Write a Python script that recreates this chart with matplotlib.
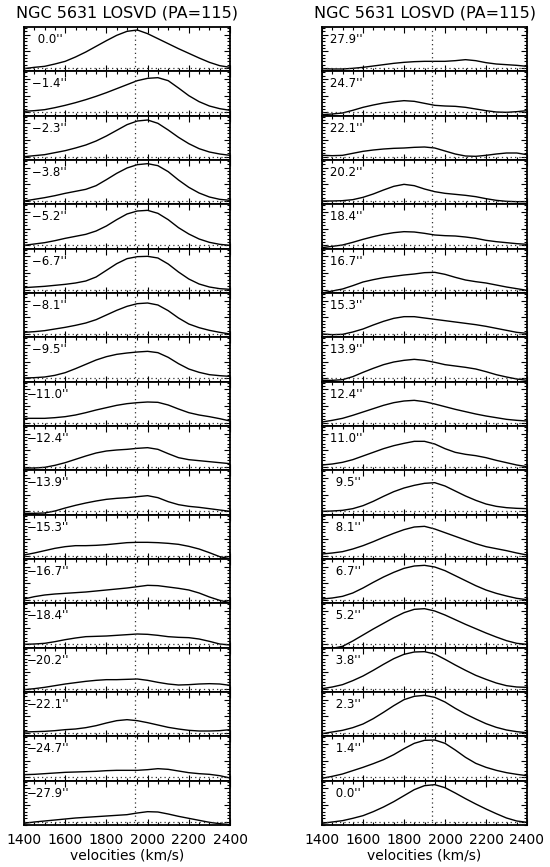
import numpy as np
import matplotlib.pyplot as plt
from matplotlib.ticker import MultipleLocator

# velocity grid (km/s) and systemic velocity
vel = np.arange(1400, 2401, 50)
v_sys = 1937

# radii (arcsec) for each panel, top to bottom
left_radii = [0.0, -1.4, -2.3, -3.8, -5.2, -6.7, -8.1, -9.5, -11.0,
              -12.4, -13.9, -15.3, -16.7, -18.4, -20.2, -22.1, -24.7, -27.9]
right_radii = [27.9, 24.7, 22.1, 20.2, 18.4, 16.7, 15.3, 13.9, 12.4,
               11.0, 9.5, 8.1, 6.7, 5.2, 3.8, 2.3, 1.4, 0.0]

# LOSVD profiles (arbitrary units), one row per panel
left_losvd = [
    [-2, 2, 5, 12, 20, 33, 48, 65, 82, 98, 110, 114, 103, 88, 73, 58, 44, 30, 17, 7, 2],
    [3, 5, 8, 14, 21, 29, 38, 48, 59, 71, 83, 95, 102, 104, 95, 73, 50, 32, 19, 11, 6],
    [0, 3, 6, 12, 18, 26, 35, 47, 62, 79, 96, 107, 110, 100, 80, 58, 39, 24, 14, 8, 4],
    [0, 5, 10, 16, 23, 29, 35, 46, 64, 83, 99, 109, 112, 106, 88, 63, 41, 24, 12, 5, 2],
    [0, 4, 8, 14, 21, 27, 33, 43, 58, 77, 94, 103, 105, 96, 77, 53, 34, 19, 9, 3, 0],
    [6, 8, 10, 13, 16, 20, 26, 38, 58, 78, 93, 99, 100, 95, 77, 53, 32, 17, 8, 3, 1],
    [5, 7, 10, 15, 20, 26, 33, 43, 57, 71, 83, 91, 93, 87, 70, 48, 30, 19, 11, 5, 0],
    [1, 2, 4, 9, 17, 29, 42, 55, 65, 72, 76, 79, 81, 77, 63, 44, 28, 18, 11, 8, 6],
    [13, 13, 13, 15, 18, 23, 30, 38, 45, 52, 57, 60, 62, 61, 53, 41, 30, 23, 18, 12, 5],
    [-3, -3, -1, 5, 13, 23, 33, 42, 48, 51, 53, 56, 58, 53, 40, 28, 22, 19, 16, 13, 10],
    [-6, -6, -5, 1, 10, 18, 25, 31, 36, 39, 41, 44, 47, 41, 29, 20, 15, 12, 8, 4, 0],
    [2, 8, 15, 22, 27, 30, 30, 31, 33, 36, 39, 40, 40, 39, 37, 34, 28, 20, 9, -3, -9],
    [3, 10, 15, 18, 20, 22, 24, 27, 30, 33, 36, 40, 44, 43, 39, 35, 30, 21, 9, -1, -8],
    [0, 1, 3, 8, 14, 19, 23, 24, 25, 27, 29, 31, 30, 27, 23, 21, 20, 16, 9, 1, -2],
    [-3, 0, 4, 9, 14, 18, 22, 25, 27, 27, 28, 29, 25, 19, 14, 11, 12, 14, 15, 14, 10],
    [3, 4, 5, 7, 10, 12, 16, 22, 30, 37, 40, 37, 31, 24, 17, 12, 8, 6, 6, 7, 10],
    [8, 9, 11, 13, 15, 16, 17, 18, 20, 21, 21, 21, 23, 26, 24, 19, 14, 11, 9, 5, -2],
    [-5, -1, 2, 5, 8, 11, 13, 15, 17, 19, 21, 26, 30, 29, 23, 16, 10, 4, -2, -6, -9],
]
right_losvd = [
    [-2, -3, -3, -1, 2, 6, 10, 14, 17, 19, 20, 20, 20, 22, 25, 22, 16, 12, 10, 8, 5],
    [-7, -5, -2, 6, 15, 22, 28, 32, 35, 33, 27, 21, 19, 18, 15, 10, 5, 1, 0, 2, 5],
    [4, 3, 4, 10, 16, 20, 23, 25, 26, 28, 29, 26, 17, 8, 2, 1, 4, 8, 11, 11, 6],
    [0, 0, 1, 4, 11, 21, 33, 44, 50, 46, 36, 28, 23, 20, 17, 13, 7, 2, -1, -2, -2],
    [-7, -3, 1, 9, 18, 26, 33, 38, 41, 40, 36, 31, 29, 28, 25, 21, 15, 11, 8, 5, 3],
    [-10, -4, 2, 12, 23, 30, 36, 40, 44, 47, 51, 52, 46, 37, 29, 24, 20, 14, 8, 3, -2],
    [0, -2, -1, 6, 15, 27, 38, 47, 52, 52, 48, 44, 40, 36, 32, 28, 23, 17, 11, 5, 2],
    [-6, -6, -4, 5, 18, 30, 41, 49, 54, 57, 54, 48, 41, 37, 33, 28, 20, 11, 4, -2, -6],
    [2, 7, 13, 22, 32, 42, 52, 60, 65, 67, 63, 56, 48, 40, 33, 26, 20, 15, 10, 7, 5],
    [6, 9, 14, 22, 33, 44, 55, 64, 71, 77, 77, 69, 55, 44, 38, 34, 28, 20, 13, 6, 1],
    [0, 1, 3, 8, 17, 30, 45, 59, 70, 78, 84, 86, 76, 61, 46, 33, 22, 15, 11, 9, 8],
    [5, 8, 12, 20, 30, 42, 55, 67, 78, 86, 88, 80, 69, 58, 47, 36, 27, 21, 15, 8, 2],
    [3, 6, 11, 21, 36, 53, 69, 83, 95, 102, 104, 99, 88, 73, 58, 43, 30, 20, 12, 5, 1],
    [-14, -12, -6, 10, 28, 46, 63, 80, 95, 105, 107, 100, 88, 74, 60, 47, 34, 22, 11, 3, 0],
    [0, 5, 12, 24, 38, 55, 73, 90, 103, 110, 111, 104, 88, 71, 55, 40, 28, 17, 9, 5, 4],
    [-2, 3, 8, 16, 27, 43, 62, 82, 100, 110, 113, 107, 93, 74, 57, 42, 28, 17, 9, 4, 1],
    [-3, 3, 10, 20, 30, 41, 53, 68, 86, 102, 111, 112, 102, 82, 60, 42, 30, 21, 14, 9, 5],
    [-5, -1, 3, 10, 18, 30, 44, 60, 78, 96, 108, 111, 102, 86, 69, 53, 38, 24, 11, 2, -2],
]

title = 'NGC 5631 LOSVD (PA=115)'

W, H = 550, 867
fig = plt.figure(figsize=(W / 100, H / 100), dpi=100)

top_px, bot_px = 27, 825
n = len(left_radii)
ph = (bot_px - top_px) / n


def draw_column(x0, x1, radii, profiles):
    axes = []
    for i, (r, prof) in enumerate(zip(radii, profiles)):
        y_top = top_px + i * ph
        ax = fig.add_axes([x0 / W, 1 - (y_top + ph) / H, (x1 - x0) / W, ph / H])
        ax.plot(vel, prof, color='black', lw=1.0)
        ax.axvline(v_sys, color='#333333', lw=0.9, ls=(0, (1, 2.5)))
        ax.axhline(0, color='#333333', lw=0.9, ls=(0, (1, 2.5)))
        ax.set_xlim(1400, 2400)
        ax.set_ylim(-10, 123)
        ax.xaxis.set_major_locator(MultipleLocator(200))
        ax.xaxis.set_minor_locator(MultipleLocator(50))
        ax.yaxis.set_major_locator(MultipleLocator(50))
        ax.yaxis.set_minor_locator(MultipleLocator(10))
        ax.tick_params(which='both', direction='in', top=True, right=True,
                       labelleft=False, labelbottom=False, width=0.8)
        ax.tick_params(which='major', length=4)
        ax.tick_params(which='minor', length=2)
        for s in ax.spines.values():
            s.set_linewidth(1.3)
        lab = f'{r:5.1f}'.replace(' ', '\u2002').replace('-', '\u2212') + "''"
        ax.text(0.012, 0.72, lab, transform=ax.transAxes, fontsize=8.5,
                ha='left', va='center')
        axes.append(ax)
    last = axes[-1]
    last.tick_params(labelbottom=True, labelsize=10, pad=6)
    last.set_xlabel('velocities (km/s)', fontsize=10, labelpad=1)
    fig.text((x0 + x1) / 2 / W, 1 - 13 / H, title, ha='center', va='center',
             fontsize=11.5)


draw_column(24, 230, left_radii, left_losvd)
draw_column(322, 527, right_radii, right_losvd)

fig.savefig('out.png', dpi=100)
